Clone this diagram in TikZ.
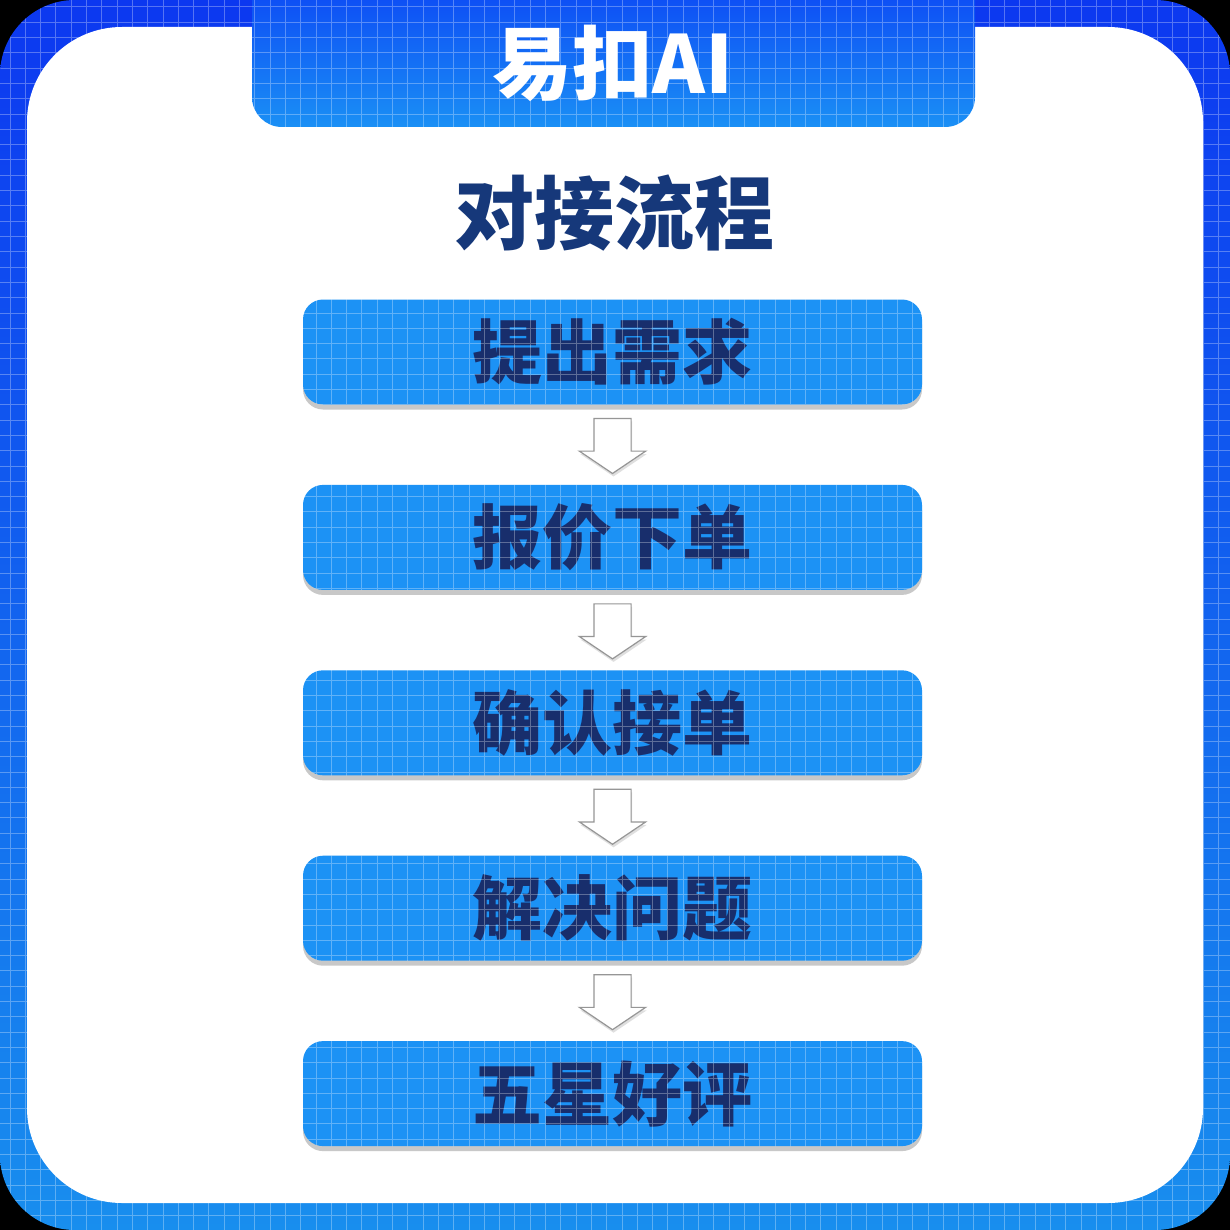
\documentclass[tikz,border=0pt]{standalone}
\usepackage{fontspec}
\newfontfamily\cjk{Noto Sans CJK SC}
\usetikzlibrary{positioning,chains,calc,shapes.arrows,shadows}
\definecolor{ringTop}{RGB}{12,56,240}
\definecolor{ringBottom}{RGB}{24,142,238}
\definecolor{tabTop}{RGB}{10,60,245}
\definecolor{tabBottom}{RGB}{26,144,245}
\definecolor{stageBlue}{RGB}{28,146,245}
\definecolor{stageText}{RGB}{24,46,108}
\definecolor{titleNavy}{RGB}{22,56,122}
\definecolor{arrowEdge}{RGB}{150,150,150}
\tikzset{
	flow chart/.style={
		x=1pt,y=-1pt,
		start chain=going below,
		node distance=80pt
	},
	stage/.style={
		rectangle,
		rounded corners=20pt,
		fill=stageBlue,
		on chain,
		minimum width=619pt,
		minimum height=105pt,
		text=stageText,
		font=\cjk\bfseries\fontsize{70pt}{70pt}\selectfont,
		drop shadow={shadow xshift=0pt,shadow yshift=-5pt,opacity=0.3,fill=black!70}
	},
	down arrow/.style={
		single arrow,
		draw=arrowEdge,
		fill=white,
		line width=1.2pt,
		shape border rotate=270,
		minimum height=55pt,
		inner sep=18pt,
		single arrow head extend=14.5pt,
		single arrow tip angle=112,
		yshift=5pt,
		drop shadow={shadow xshift=1pt,shadow yshift=-3pt,opacity=0.25}
	},
	grid line/.style={
		draw=white,
		opacity=0.3,
		line width=1pt,
		step=15.3pt
	},
	big label/.style={
		font=\cjk\bfseries\fontsize{80pt}{80pt}\selectfont
	}
}
\begin{document}
\begin{tikzpicture}[flow chart]
	\useasboundingbox (0,0) rectangle (1230,1230);
	\fill[black] (0,0) rectangle (1230,1230);
	% blue frame
	\path[rounded corners=75pt,top color=ringTop,bottom color=ringBottom] (0,0) rectangle (1230,1230);
	\begin{scope}
		\clip[rounded corners=75pt] (0,0) rectangle (1230,1230);
		\draw[grid line,xshift=10pt,yshift=-7pt] (-20,-20) grid (1240,1240);
	\end{scope}
	\fill[white,rounded corners=95pt] (27,27) rectangle (1203,1203);
	% top tab
	\path[rounded corners=30pt,top color=tabTop,bottom color=tabBottom] (252,-40) rectangle (975,127);
	\begin{scope}
		\clip[rounded corners=30pt] (252,-40) rectangle (975,127);
		\draw[grid line,xshift=10pt,yshift=-7pt] (240,-20) grid (990,140);
	\end{scope}
	\node[big label,text=white] (brand) at (613,63) {易扣AI};
	\node[big label,text=titleNavy] (title) at (614,213) {对接流程};
	% steps
	\node[stage] (s1) at (612.5,352) {提出需求};
	\node[stage] (s2) {报价下单};
	\node[stage] (s3) {确认接单};
	\node[stage] (s4) {解决问题};
	\node[stage] (s5) {五星好评};
	\begin{scope}
		\clip \foreach \i in {1,...,5} {[rounded corners=20pt] (s\i.south west) rectangle (s\i.north east)};
		\draw[grid line,xshift=10pt,yshift=-7pt] (280,280) grid (940,1160);
	\end{scope}
	\foreach \i [count=\j from 2] in {1,...,4}
		\node[down arrow] (arrow\i) at ($(s\i.south)!0.5!(s\j.north)$) {};
\end{tikzpicture}
\end{document}
